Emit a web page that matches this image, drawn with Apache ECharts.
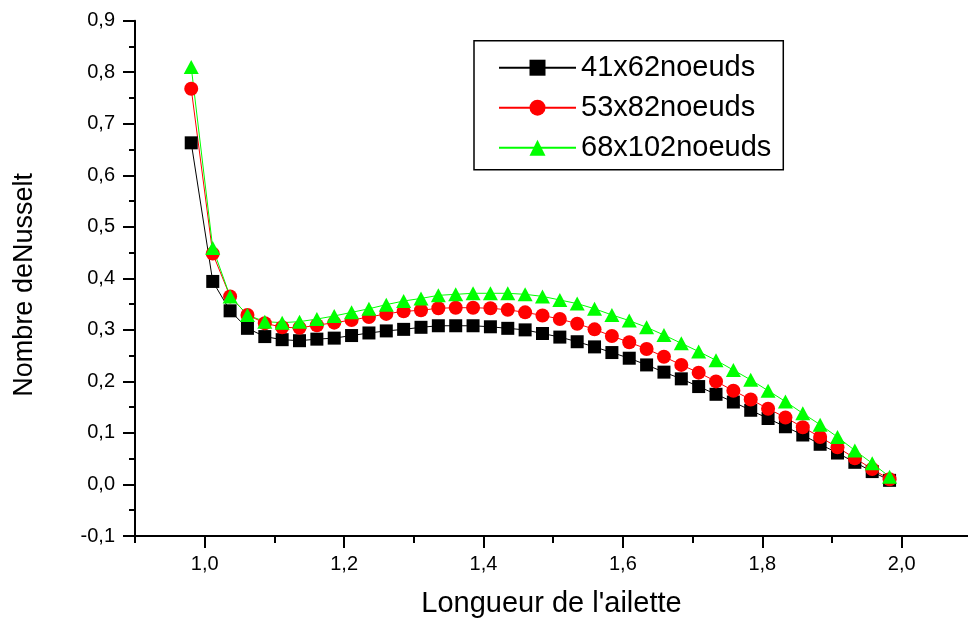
<!DOCTYPE html>
<html>
<head>
<meta charset="utf-8">
<script src="https://cdn.jsdelivr.net/npm/echarts@6/dist/echarts.min.js"></script>
<style>
html,body{margin:0;padding:0;background:#fff;}
#chart{width:968px;height:623px;}
</style>
</head>
<body>
<div id="chart"></div>
<script>
const xValues = [0.981, 1.012, 1.037, 1.062, 1.087, 1.112, 1.137, 1.162, 1.187, 1.212, 1.237, 1.262, 1.287, 1.312, 1.337, 1.362, 1.387, 1.412, 1.437, 1.462, 1.487, 1.512, 1.537, 1.562, 1.587, 1.612, 1.637, 1.662, 1.687, 1.712, 1.737, 1.762, 1.787, 1.812, 1.837, 1.862, 1.887, 1.912, 1.937, 1.962, 1.987];
const seriesNames = ['41x62noeuds', '53x82noeuds', '68x102noeuds'];
const nu41x62 = [0.663, 0.394, 0.337, 0.303, 0.287, 0.281, 0.279, 0.282, 0.284, 0.289, 0.294, 0.298, 0.301, 0.305, 0.308, 0.308, 0.308, 0.306, 0.303, 0.300, 0.293, 0.286, 0.277, 0.267, 0.256, 0.245, 0.232, 0.218, 0.205, 0.190, 0.175, 0.160, 0.144, 0.128, 0.112, 0.096, 0.078, 0.061, 0.043, 0.025, 0.008];
const nu53x82 = [0.768, 0.448, 0.365, 0.329, 0.313, 0.305, 0.304, 0.309, 0.314, 0.319, 0.325, 0.331, 0.336, 0.338, 0.342, 0.343, 0.343, 0.342, 0.339, 0.334, 0.328, 0.321, 0.312, 0.301, 0.288, 0.276, 0.263, 0.248, 0.232, 0.217, 0.200, 0.182, 0.165, 0.147, 0.130, 0.111, 0.092, 0.072, 0.051, 0.030, 0.010];
const nu68x102 = [0.810, 0.459, 0.365, 0.329, 0.316, 0.314, 0.316, 0.321, 0.327, 0.334, 0.341, 0.349, 0.356, 0.361, 0.367, 0.369, 0.371, 0.371, 0.371, 0.369, 0.365, 0.358, 0.351, 0.341, 0.329, 0.318, 0.305, 0.290, 0.274, 0.258, 0.241, 0.222, 0.203, 0.182, 0.161, 0.138, 0.116, 0.092, 0.066, 0.041, 0.015];
const xTitle = "Longueur de l'ailette";
const yTitle = 'Nombre deNusselt';

const FONT = '"Liberation Sans", Arial, Helvetica, sans-serif';
const pair = (ys) => xValues.map((x, i) => [x, ys[i]]);
const comma = (v) => v.toFixed(1).replace('.', ',');

const chart = echarts.init(document.getElementById('chart'), null, {renderer: 'canvas'});
const pxPerUnit = 697;
const left0 = 135;
const TOP = 20.7, BOTTOM = 87;
const option = {
  animation: false,
  backgroundColor: '#fff',
  grid: [
    {left: left0, top: TOP, width: 1.2 * pxPerUnit, bottom: BOTTOM},
    {left: left0, top: TOP, width: 1.1 * pxPerUnit, bottom: BOTTOM},
    {left: left0 + 0.1 * pxPerUnit, top: TOP, width: pxPerUnit, bottom: BOTTOM}
  ],
  xAxis: [
    {
      type: 'value', gridIndex: 0, min: 0.9, max: 2.1, position: 'bottom',
      axisLine: {show: true, onZero: false, lineStyle: {color: '#000', width: 2}},
      axisTick: {show: false},
      axisLabel: {show: false},
      splitLine: {show: false},
      name: xTitle, nameLocation: 'middle', nameGap: 53,
      nameTextStyle: {fontFamily: FONT, fontSize: 29, color: '#000'}
    },
    {
      type: 'value', gridIndex: 1, min: 0.9, max: 2.0, interval: 0.1, position: 'bottom',
      axisLine: {show: false, onZero: false},
      axisTick: {show: true, length: 7, lineStyle: {color: '#000', width: 2}},
      axisLabel: {show: false},
      splitLine: {show: false}
    },
    {
      type: 'value', gridIndex: 2, min: 1.0, max: 2.0, interval: 0.2, position: 'bottom',
      axisLine: {show: false, onZero: false},
      axisTick: {show: true, length: 12, lineStyle: {color: '#000', width: 2}},
      axisLabel: {show: true, margin: 18, fontFamily: FONT, fontSize: 20, color: '#000', formatter: comma},
      splitLine: {show: false}
    }
  ],
  yAxis: [
    {
      type: 'value', gridIndex: 0, min: -0.1, max: 0.9, interval: 0.1,
      axisLine: {show: true, onZero: false, lineStyle: {color: '#000', width: 2}},
      axisTick: {show: true, length: 12, lineStyle: {color: '#000', width: 2}},
      minorTick: {show: true, splitNumber: 2, length: 6, lineStyle: {color: '#000', width: 2}},
      axisLabel: {show: true, margin: 20, fontFamily: FONT, fontSize: 20, color: '#000', formatter: comma},
      splitLine: {show: false},
      name: yTitle, nameLocation: 'middle', nameGap: 97, nameRotate: 90,
      nameTextStyle: {fontFamily: FONT, fontSize: 27, color: '#000', padding: [0, 13, 0, 0]}
    },
    {type: 'value', gridIndex: 1, min: -0.1, max: 0.9, show: false},
    {type: 'value', gridIndex: 2, min: -0.1, max: 0.9, show: false}
  ],
  legend: {
    orient: 'vertical', left: 474, top: 40.7,
    padding: [12, 12, 7, 24],
    itemWidth: 77, itemHeight: 20, itemGap: 10,
    borderColor: '#000', borderWidth: 1.5, backgroundColor: '#fff',
    textStyle: {fontFamily: FONT, fontSize: 29, color: '#000', lineHeight: 30},
    data: seriesNames
  },
  series: [
    {
      name: seriesNames[0], type: 'line', xAxisIndex: 0, yAxisIndex: 0,
      data: pair(nu41x62), symbol: 'rect', symbolSize: 13, showSymbol: true,
      lineStyle: {color: '#000', width: 1}, itemStyle: {color: '#000'}
    },
    {
      name: seriesNames[1], type: 'line', xAxisIndex: 0, yAxisIndex: 0,
      data: pair(nu53x82), symbol: 'circle', symbolSize: 14, showSymbol: true,
      lineStyle: {color: '#ff0000', width: 1}, itemStyle: {color: '#ff0000'}
    },
    {
      name: seriesNames[2], type: 'line', xAxisIndex: 0, yAxisIndex: 0,
      data: pair(nu68x102), symbol: 'triangle', symbolSize: [15, 14], showSymbol: true,
      lineStyle: {color: '#00ff00', width: 1}, itemStyle: {color: '#00ff00'}
    }
  ]
};
chart.setOption(option);
</script>
</body>
</html>
